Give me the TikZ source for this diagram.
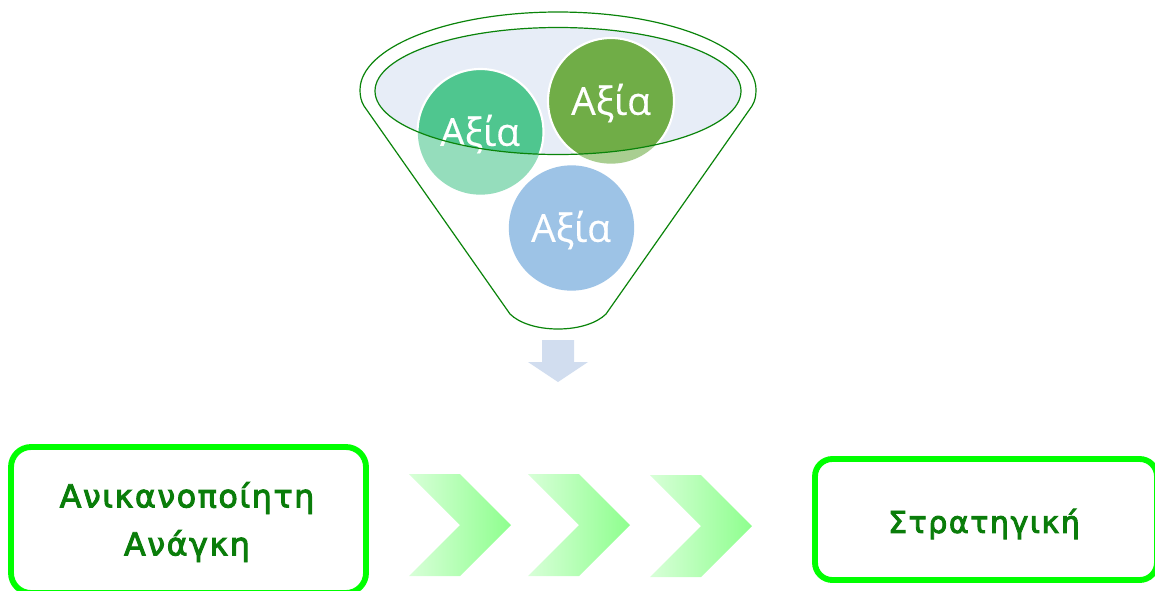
\documentclass[tikz,border=0pt]{standalone}
\usepackage{fontspec}
\setmainfont{Open Sans}
\newfontfamily\boxfont[LetterSpace=5,FakeBold=3]{DejaVu Sans}
\newfontfamily\ballfont[FakeBold=0.4]{Open Sans}
\usetikzlibrary{shapes.geometric}
\definecolor{funnelline}{HTML}{0A840A}
\definecolor{mouthfill}{HTML}{E7EDF7}
\definecolor{tealc}{HTML}{4FC68F}
\definecolor{greenc}{HTML}{70AD47}
\definecolor{bluec}{HTML}{9DC3E6}
\definecolor{arrowc}{HTML}{D1DDEF}
\definecolor{boxgreen}{HTML}{00FF00}
\definecolor{textgreen}{HTML}{0A7D0A}
\definecolor{chevright}{HTML}{8EFF8E}
\definecolor{chevleft}{HTML}{D8FFD8}
\tikzset{
  x=0.75pt,y=-0.75pt,
  funnelstroke/.style={draw=funnelline,line width=0.9pt},
  ball/.style={circle,minimum size=94pt,inner sep=0pt,outer sep=0pt},
  balltext/.style={text=white,font=\ballfont\fontsize{29}{32}\selectfont,inner sep=0pt},
  roundbox/.style={draw=boxgreen,line width=4.4pt,fill=white},
  boxtext/.style={text=textgreen,align=center,inner sep=0pt},
  needtext/.style={boxtext,font=\boxfont\fontsize{23.8}{36}\selectfont},
  strategytext/.style={boxtext,font=\boxfont\fontsize{22.6}{33}\selectfont},
  chevshade/.style={left color=chevleft,right color=chevright},
}
\begin{document}
\begin{tikzpicture}
\useasboundingbox (0,0) rectangle (1155,590);
\clip (0,0) rectangle (1155,590);
% funnel body
\draw[funnelstroke,fill=white] (364,106) .. controls (361,101) and (360,96) .. (360,90)
  .. controls (360,47) and (449,12) .. (558,12)
  .. controls (667,12) and (756,47) .. (756,90)
  .. controls (756,96) and (755,101) .. (752,106)
  -- (606,314) .. controls (597,323) and (579,329) .. (558,329)
  .. controls (537,329) and (519,323) .. (510,314) -- cycle;
% mouth
\fill[mouthfill] (558,91) ellipse [x radius=183,y radius=63.5];
% faded balls below the mouth
\node[ball,fill=tealc!60!white] (teal) at (480.5,132) {};
\node[ball,fill=greenc!60!white] (green) at (611,101) {};
\node[ball,fill=bluec] (blue) at (571.5,228) {};
% balls inside the mouth
\begin{scope}
\clip (558,91) ellipse [x radius=183,y radius=63.5];
\fill[mouthfill] (558,91) ellipse [x radius=183,y radius=63.5];
\draw[white,line width=1.6pt,fill=tealc] (480.5,132) circle [radius=63];
\draw[white,line width=1.6pt,fill=greenc] (611,101) circle [radius=63];
\end{scope}
\node[balltext] (t1) at (480,134) {Αξία};
\node[balltext] (t2) at (611,103) {Αξία};
\node[balltext] (t3) at (571,230) {Αξία};
\draw[funnelstroke] (558,91) ellipse [x radius=183,y radius=63.5];
% down arrow
\fill[arrowc] (542,340) -- (574,340) -- (574,362) -- (588,362) -- (558,382) -- (528,362) -- (542,362) -- cycle;
% boxes
\draw[roundbox] (11,447) [rounded corners=15pt] rectangle (366,593);
\draw[roundbox] (815,459) [rounded corners=13pt] rectangle (1157,580);
\node[needtext] (need) at (187,522) {Ανικανοποίητη\\Ανάγκη};
\node[strategytext] (strategy) at (984,524) {Στρατηγική};
% chevrons
\shade[chevshade] (409,474) -- (460,474) -- (511,525) -- (460,576) -- (409,576) -- (460,525) -- cycle;
\shade[chevshade] (528,474) -- (579,474) -- (630,525) -- (579,576) -- (528,576) -- (579,525) -- cycle;
\shade[chevshade] (650,475) -- (701,475) -- (752,526) -- (701,577) -- (650,577) -- (701,526) -- cycle;
\end{tikzpicture}
\end{document}
